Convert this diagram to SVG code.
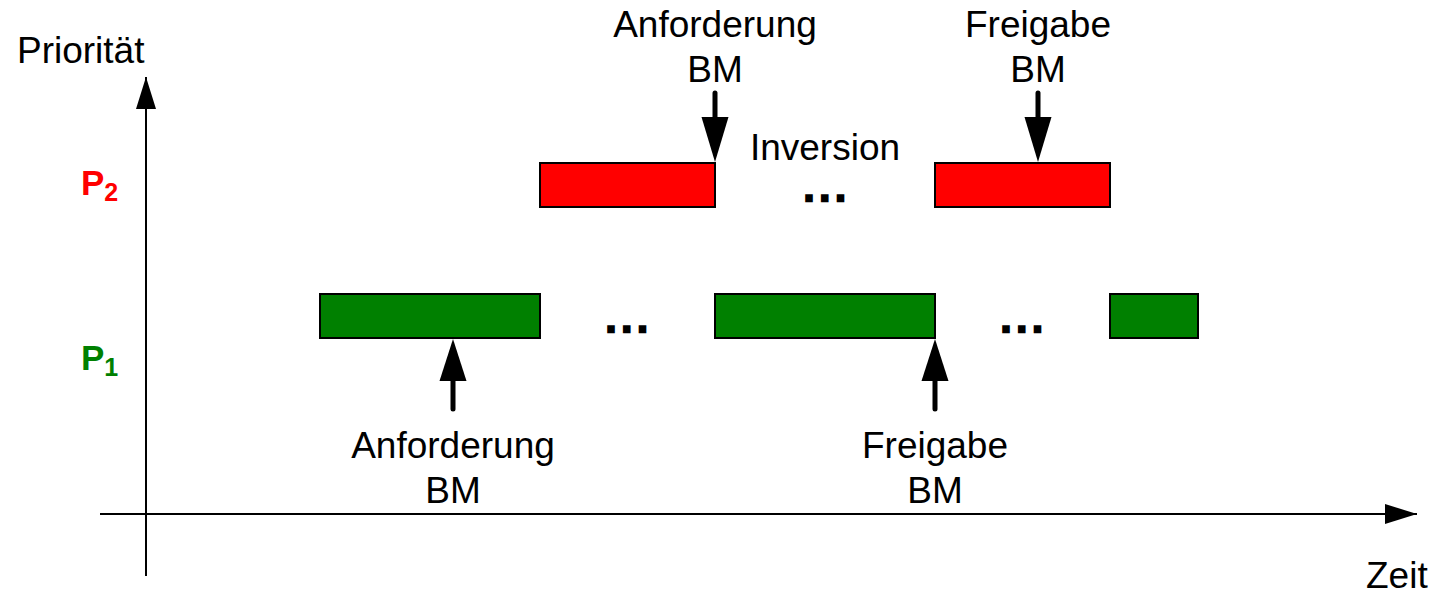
<svg xmlns="http://www.w3.org/2000/svg" width="1435" height="596" viewBox="0 0 1435 596">
<style>
text{font-family:"Liberation Sans",Arial,sans-serif;fill:#000}
.lbl{font-size:37px;text-anchor:middle}
.dots{font-size:36px;font-weight:bold;stroke:#000;stroke-width:2.5;letter-spacing:5.7px}
.red{fill:#ff0000;stroke:#000;stroke-width:2}
.green{fill:#008000;stroke:#000;stroke-width:2}
.axis{stroke:#000;stroke-width:2;fill:none}
.ev{stroke:#000;stroke-width:5;stroke-linecap:round;fill:none}
.pl{font-size:35px;font-weight:bold}
.sub{font-size:25px;font-weight:bold}
</style>
<defs>
<marker id="ah" markerUnits="userSpaceOnUse" markerWidth="34" markerHeight="22" refX="32" refY="10" orient="auto" viewBox="0 0 34 22">
<path d="M0,0 L32,10 L0,20 Z" fill="#000"/>
</marker>
</defs>
<g id="connectors">
<line class="axis" x1="146" y1="576" x2="146" y2="77" marker-end="url(#ah)"/>
<line class="axis" x1="100" y1="514" x2="1417" y2="514" marker-end="url(#ah)"/>
<line class="ev" x1="715" y1="93" x2="715" y2="125"/>
<path d="M701.5,117 L728.5,117 L715,162 Z" fill="#000"/>
<line class="ev" x1="1038" y1="93" x2="1038" y2="125"/>
<path d="M1024.5,117 L1051.5,117 L1038,162 Z" fill="#000"/>
<line class="ev" x1="453" y1="409" x2="453" y2="375"/>
<path d="M439.5,381 L466.5,381 L453,339 Z" fill="#000"/>
<line class="ev" x1="935" y1="409" x2="935" y2="375"/>
<path d="M921.5,381 L948.5,381 L935,339 Z" fill="#000"/>
</g>
<g id="axis-labels">
<text x="17" y="63" style="font-size:37px">Priorität</text>
<text x="1366" y="588" style="font-size:37px">Zeit</text>
</g>
<g id="p2-label"><text x="81" y="195" class="pl" style="fill:#ff0000">P<tspan class="sub" dy="6">2</tspan></text></g>
<g id="p1-label"><text x="81" y="370" class="pl" style="fill:#008000">P<tspan class="sub" dy="6">1</tspan></text></g>
<g id="p2-bar1"><rect class="red" x="540" y="163" width="175" height="44"/></g>
<g id="p2-bar2"><rect class="red" x="935" y="163" width="175" height="44"/></g>
<g id="p1-bar1"><rect class="green" x="320" y="294" width="220" height="44"/></g>
<g id="p1-bar2"><rect class="green" x="715" y="294" width="220" height="44"/></g>
<g id="p1-bar3"><rect class="green" x="1110" y="294" width="88" height="44"/></g>
<g id="dots">
<text class="dots" x="804" y="201">...</text>
<text class="dots" x="606" y="332">...</text>
<text class="dots" x="1001" y="332">...</text>
</g>
<g id="label-anf-top"><text class="lbl" x="715" y="37">Anforderung</text><text class="lbl" x="715" y="82">BM</text></g>
<g id="label-frei-top"><text class="lbl" x="1038" y="37">Freigabe</text><text class="lbl" x="1038" y="82">BM</text></g>
<g id="label-inversion"><text class="lbl" x="825" y="160">Inversion</text></g>
<g id="label-anf-bottom"><text class="lbl" x="453" y="458">Anforderung</text><text class="lbl" x="453" y="503">BM</text></g>
<g id="label-frei-bottom"><text class="lbl" x="935" y="458">Freigabe</text><text class="lbl" x="935" y="503">BM</text></g>
</svg>
